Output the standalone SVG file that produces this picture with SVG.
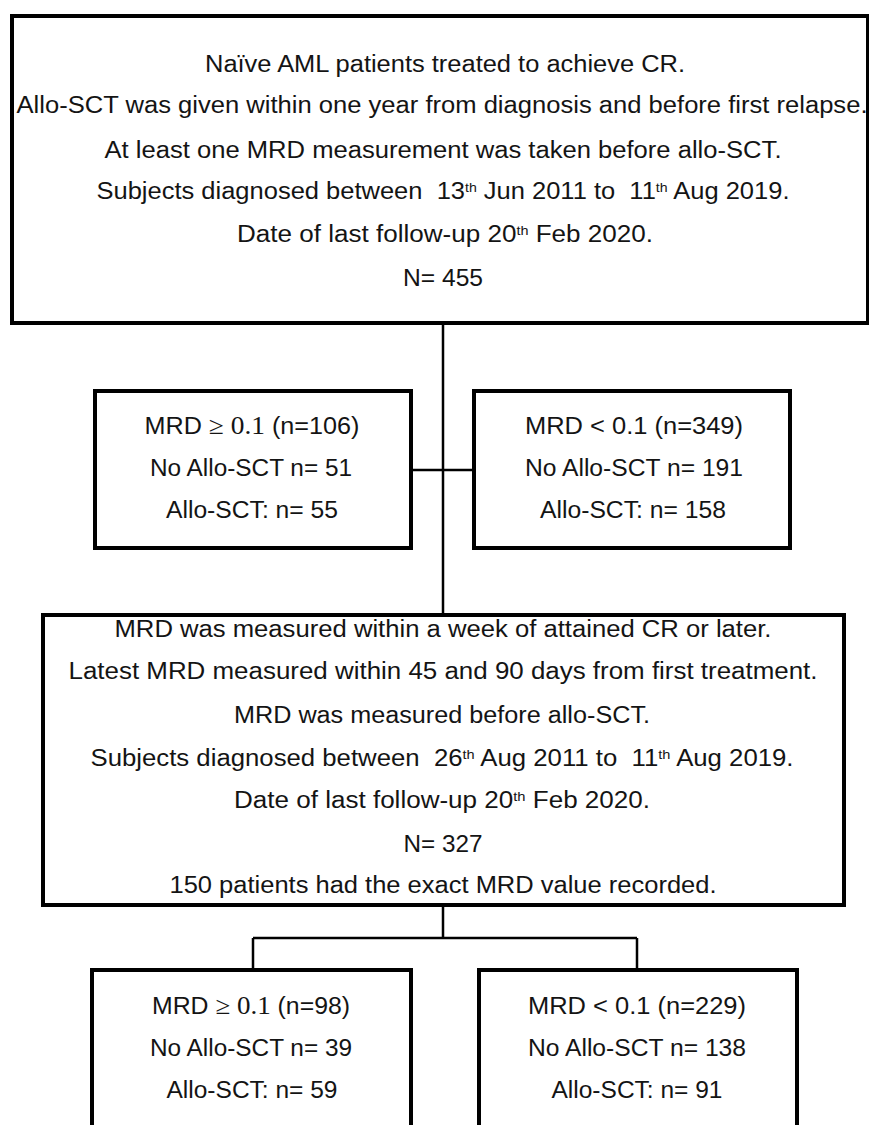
<svg xmlns="http://www.w3.org/2000/svg" width="869" height="1125" viewBox="0 0 869 1125">
<style>
.box{fill:#fff;stroke:#000;stroke-width:4}
.con{fill:none;stroke:#000;stroke-width:2.5}
text{font-family:"Liberation Sans",Arial,sans-serif;font-size:23px;fill:#141414;text-anchor:middle;white-space:pre}
.big{font-size:23.5px}
.sup{font-size:13px}
.m{font-family:"Liberation Serif","Times New Roman",serif;font-size:25px}
</style>
<rect width="869" height="1125" fill="#fff"/>
<g id="connectors">
<path class="con" d="M443 323V614"/>
<path class="con" d="M411 470H474"/>
<path class="con" d="M443 905V938M253 938H637M253 938V970M637 938V970"/>
</g>
<g id="n-top">
<rect class="box" x="12" y="16" width="856" height="307"/>
<text class="big" x="445" y="72" textLength="480" lengthAdjust="spacingAndGlyphs">Naïve AML patients treated to achieve CR.</text>
<text class="big" x="442" y="113" textLength="851" lengthAdjust="spacingAndGlyphs">Allo-SCT was given within one year from diagnosis and before first relapse.</text>
<text class="big" x="443" y="158" textLength="677" lengthAdjust="spacingAndGlyphs">At least one MRD measurement was taken before allo-SCT.</text>
<text class="big" x="443" y="199" textLength="693" lengthAdjust="spacingAndGlyphs">Subjects diagnosed between  13<tspan class="sup" baseline-shift="super">th</tspan> Jun 2011 to  11<tspan class="sup" baseline-shift="super">th</tspan> Aug 2019.</text>
<text class="big" x="445" y="242" textLength="416" lengthAdjust="spacingAndGlyphs">Date of last follow-up 20<tspan class="sup" baseline-shift="super">th</tspan> Feb 2020.</text>
<text class="big" x="443" y="286" textLength="80" lengthAdjust="spacingAndGlyphs">N= 455</text>
</g>
<g id="n-mid-left">
<rect class="box" x="95" y="391" width="316" height="157"/>
<text x="252" y="434" textLength="215" lengthAdjust="spacingAndGlyphs">MRD <tspan class="m">≥ 0.1</tspan> (n=106)</text>
<text x="251" y="476" textLength="202" lengthAdjust="spacingAndGlyphs">No Allo-SCT n= 51</text>
<text x="252" y="518" textLength="172" lengthAdjust="spacingAndGlyphs">Allo-SCT: n= 55</text>
</g>
<g id="n-mid-right">
<rect class="box" x="474" y="391" width="316" height="157"/>
<text x="634" y="434" textLength="218" lengthAdjust="spacingAndGlyphs">MRD &lt; 0.1 (n=349)</text>
<text x="634" y="476" textLength="218" lengthAdjust="spacingAndGlyphs">No Allo-SCT n= 191</text>
<text x="633" y="518" textLength="186" lengthAdjust="spacingAndGlyphs">Allo-SCT: n= 158</text>
</g>
<g id="n-criteria">
<rect class="box" x="43" y="615" width="801" height="290"/>
<text x="443" y="637" textLength="657" lengthAdjust="spacingAndGlyphs">MRD was measured within a week of attained CR or later.</text>
<text x="443" y="679" textLength="749" lengthAdjust="spacingAndGlyphs">Latest MRD measured within 45 and 90 days from first treatment.</text>
<text x="442" y="723" textLength="416" lengthAdjust="spacingAndGlyphs">MRD was measured before allo-SCT.</text>
<text x="442" y="766" textLength="703" lengthAdjust="spacingAndGlyphs">Subjects diagnosed between  26<tspan class="sup" baseline-shift="super">th</tspan> Aug 2011 to  11<tspan class="sup" baseline-shift="super">th</tspan> Aug 2019.</text>
<text x="442" y="808" textLength="416" lengthAdjust="spacingAndGlyphs">Date of last follow-up 20<tspan class="sup" baseline-shift="super">th</tspan> Feb 2020.</text>
<text x="443" y="852" textLength="79" lengthAdjust="spacingAndGlyphs">N= 327</text>
<text x="443" y="893" textLength="547" lengthAdjust="spacingAndGlyphs">150 patients had the exact MRD value recorded.</text>
</g>
<g id="n-bottom-left">
<rect class="box" x="92" y="970" width="319" height="170"/>
<text x="251" y="1014" textLength="198" lengthAdjust="spacingAndGlyphs">MRD <tspan class="m">≥ 0.1</tspan> (n=98)</text>
<text x="251" y="1056" textLength="202" lengthAdjust="spacingAndGlyphs">No Allo-SCT n= 39</text>
<text x="252" y="1098" textLength="171" lengthAdjust="spacingAndGlyphs">Allo-SCT: n= 59</text>
</g>
<g id="n-bottom-right">
<rect class="box" x="479" y="970" width="318" height="170"/>
<text x="637" y="1014" textLength="218" lengthAdjust="spacingAndGlyphs">MRD &lt; 0.1 (n=229)</text>
<text x="637" y="1056" textLength="218" lengthAdjust="spacingAndGlyphs">No Allo-SCT n= 138</text>
<text x="637" y="1098" textLength="171" lengthAdjust="spacingAndGlyphs">Allo-SCT: n= 91</text>
</g>
</svg>
